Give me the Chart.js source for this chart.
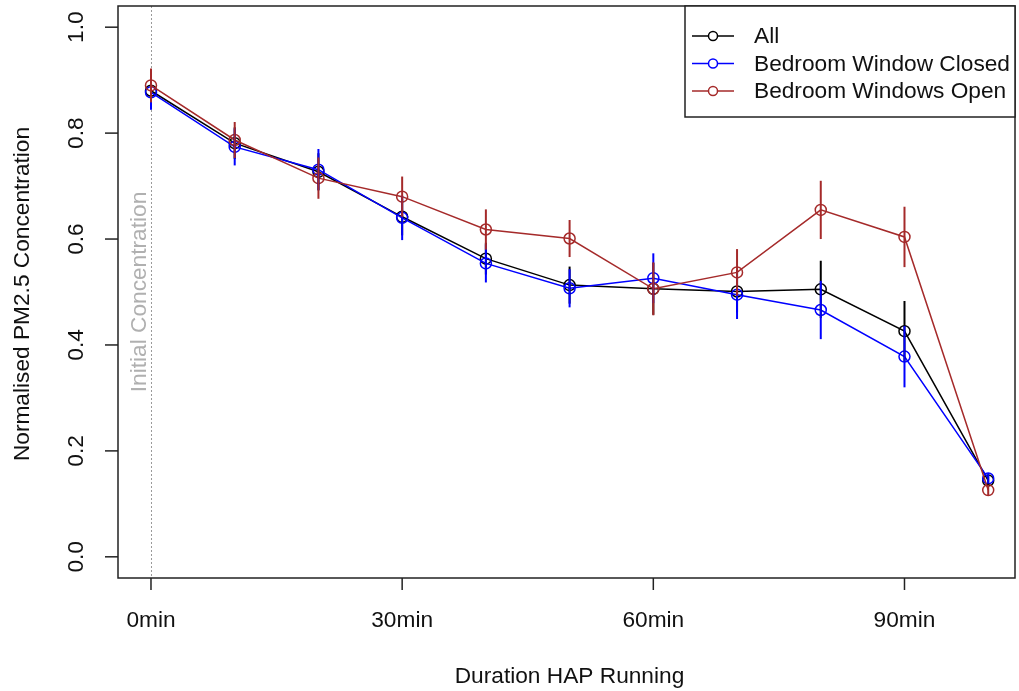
<!DOCTYPE html>
<html lang="en">
<head>
  <meta charset="UTF-8">
  <title>Normalised PM2.5 Concentration</title>
  <style>
    body {
      margin: 0;
      background: #ffffff;
    }
    canvas {
      display: block;
    }
  </style>
</head>
<body>
  <canvas id="pmChart" width="1019" height="691"></canvas>

  <script src="https://cdn.jsdelivr.net/npm/chart.js"></script>
  <script>
    // Data
    const minutes = [0, 10, 20, 30, 40, 50, 60, 70, 80, 90, 100];
    const allValues = [0.880, 0.781, 0.727, 0.642, 0.563, 0.513, 0.506, 0.501, 0.505, 0.426, 0.144];
    const closedValues = [0.877, 0.774, 0.731, 0.640, 0.554, 0.507, 0.526, 0.495, 0.466, 0.378, 0.148];
    const openValues = [0.890, 0.787, 0.715, 0.680, 0.618, 0.601, 0.506, 0.537, 0.655, 0.604, 0.126];
    const allErr = [0.030, 0.030, 0.035, 0.035, 0.030, 0.035, 0.049, 0.040, 0.054, 0.057, 0.010];
    const closedErr = [0.033, 0.035, 0.039, 0.042, 0.036, 0.036, 0.047, 0.046, 0.055, 0.058, 0.010];
    const openErr = [0.032, 0.034, 0.039, 0.038, 0.038, 0.035, 0.050, 0.044, 0.055, 0.057, 0.010];

    const seriesNames = ['All', 'Bedroom Window Closed', 'Bedroom Windows Open'];
    const seriesColors = ['#000000', '#0000ff', '#a52a2a'];

    const xTickValues = [0, 30, 60, 90];
    const xTickLabels = ['0min', '30min', '60min', '90min'];
    const yTickValues = [0, 0.2, 0.4, 0.6, 0.8, 1.0];
    const yTickLabels = ['0.0', '0.2', '0.4', '0.6', '0.8', '1.0'];

    const FONT = '22.7px "Liberation Sans", Arial, sans-serif';

    function toPoints(values) {
      return minutes.map((m, i) => ({ x: m, y: values[i] }));
    }

    const errorSets = [allErr, closedErr, openErr];
    const valueSets = [allValues, closedValues, openValues];

    // error bars, reference line, axes and legend in R style
    const rStylePlugin = {
      id: 'rStyle',
      beforeDatasetsDraw(chart) {
        const ctx = chart.ctx;
        const x = chart.scales.x;
        const area = chart.chartArea;
        // dotted line at the start
        const x0 = x.getPixelForValue(0);
        ctx.save();
        ctx.strokeStyle = '#9a9a9a';
        ctx.lineWidth = 1;
        ctx.setLineDash([2, 2]);
        ctx.beginPath();
        ctx.moveTo(x0 + 0.5, area.top);
        ctx.lineTo(x0 + 0.5, area.bottom);
        ctx.stroke();
        ctx.setLineDash([]);
        ctx.translate(x0 - 11, chart.scales.y.getPixelForValue(0.5));
        ctx.rotate(-Math.PI / 2);
        ctx.fillStyle = '#b0b0b0';
        ctx.font = FONT;
        ctx.textAlign = 'center';
        ctx.textBaseline = 'middle';
        ctx.fillText('Initial Concentration', 0, 0);
        ctx.restore();
      },
      afterDatasetsDraw(chart) {
        const ctx = chart.ctx;
        const y = chart.scales.y;
        ctx.save();
        ctx.lineWidth = 2;
        chart.data.datasets.forEach((ds, d) => {
          const meta = chart.getDatasetMeta(d);
          ctx.strokeStyle = seriesColors[d];
          meta.data.forEach((pt, i) => {
            const v = valueSets[d][i];
            const e = errorSets[d][i];
            ctx.beginPath();
            ctx.moveTo(pt.x, y.getPixelForValue(v + e));
            ctx.lineTo(pt.x, y.getPixelForValue(v - e));
            ctx.stroke();
          });
        });
        ctx.restore();
      },
      afterDraw(chart) {
        const ctx = chart.ctx;
        const x = chart.scales.x;
        const y = chart.scales.y;
        const area = chart.chartArea;
        ctx.save();
        ctx.strokeStyle = '#222222';
        ctx.lineWidth = 1.5;
        // box
        ctx.strokeRect(area.left, area.top, area.right - area.left, area.bottom - area.top);

        ctx.fillStyle = '#111111';
        ctx.font = FONT;

        // x ticks
        ctx.textAlign = 'center';
        ctx.textBaseline = 'middle';
        xTickValues.forEach((v, i) => {
          const px = x.getPixelForValue(v);
          ctx.beginPath();
          ctx.moveTo(px, area.bottom);
          ctx.lineTo(px, area.bottom + 12);
          ctx.stroke();
          ctx.fillText(xTickLabels[i], px, area.bottom + 43);
        });
        ctx.fillText('Duration HAP Running', (area.left + area.right) / 2 + 3, 677);

        // y ticks
        yTickValues.forEach((v, i) => {
          const py = y.getPixelForValue(v);
          ctx.beginPath();
          ctx.moveTo(area.left, py);
          ctx.lineTo(area.left - 13, py);
          ctx.stroke();
          ctx.save();
          ctx.translate(area.left - 41, py);
          ctx.rotate(-Math.PI / 2);
          ctx.fillText(yTickLabels[i], 0, 0);
          ctx.restore();
        });
        ctx.save();
        ctx.translate(23, (area.top + area.bottom) / 2 + 2);
        ctx.rotate(-Math.PI / 2);
        ctx.fillText('Normalised PM2.5 Concentration', 0, 0);
        ctx.restore();

        // legend
        const lx = 685, ly = area.top, lw = area.right - 685, lh = 111;
        ctx.fillStyle = '#ffffff';
        ctx.fillRect(lx, ly, lw, lh);
        ctx.strokeRect(lx, ly, lw, lh);
        ctx.textAlign = 'left';
        seriesNames.forEach((name, i) => {
          const ry = 36 + i * 27.5;
          ctx.strokeStyle = seriesColors[i];
          ctx.lineWidth = 1.5;
          ctx.beginPath();
          ctx.moveTo(692, ry);
          ctx.lineTo(734, ry);
          ctx.stroke();
          ctx.fillStyle = '#ffffff';
          ctx.beginPath();
          ctx.arc(713, ry, 4.5, 0, Math.PI * 2);
          ctx.fill();
          ctx.stroke();
          ctx.fillStyle = '#111111';
          ctx.fillText(name, 754, ry + 1);
        });
        ctx.restore();
      }
    };

    function makeDataset(i, values) {
      return {
        label: seriesNames[i],
        data: toPoints(values),
        borderColor: seriesColors[i],
        backgroundColor: 'rgba(0,0,0,0)',
        borderWidth: 1.5,
        pointRadius: 5.5,
        pointBorderWidth: 1.5,
        pointBackgroundColor: 'rgba(0,0,0,0)',
        pointBorderColor: seriesColors[i],
        tension: 0,
        order: 3 - i
      };
    }

    new Chart(document.getElementById('pmChart'), {
      type: 'line',
      data: {
        datasets: [
          makeDataset(0, allValues),
          makeDataset(1, closedValues),
          makeDataset(2, openValues)
        ]
      },
      options: {
        responsive: false,
        animation: false,
        clip: false,
        layout: { autoPadding: false, padding: { top: 6, right: 4, left: 0, bottom: 0 } },
        plugins: {
          legend: { display: false },
          tooltip: { enabled: false }
        },
        scales: {
          x: {
            type: 'linear',
            min: -3.94,
            max: 103.2,
            grid: { display: false },
            border: { display: false },
            ticks: { display: false },
            afterBuildTicks(scale) { scale.ticks = xTickValues.map(v => ({ value: v })); },
            afterFit(scale) {
              scale.height = 113;
              scale.paddingLeft = 0;
              scale.paddingRight = 0;
            }
          },
          y: {
            type: 'linear',
            min: -0.04,
            max: 1.04,
            grid: { display: false },
            border: { display: false },
            ticks: { display: false },
            afterBuildTicks(scale) { scale.ticks = yTickValues.map(v => ({ value: v })); },
            afterFit(scale) {
              scale.width = 118;
              scale.paddingTop = 0;
              scale.paddingBottom = 0;
            }
          }
        }
      },
      plugins: [rStylePlugin]
    });
  </script>
</body>
</html>
